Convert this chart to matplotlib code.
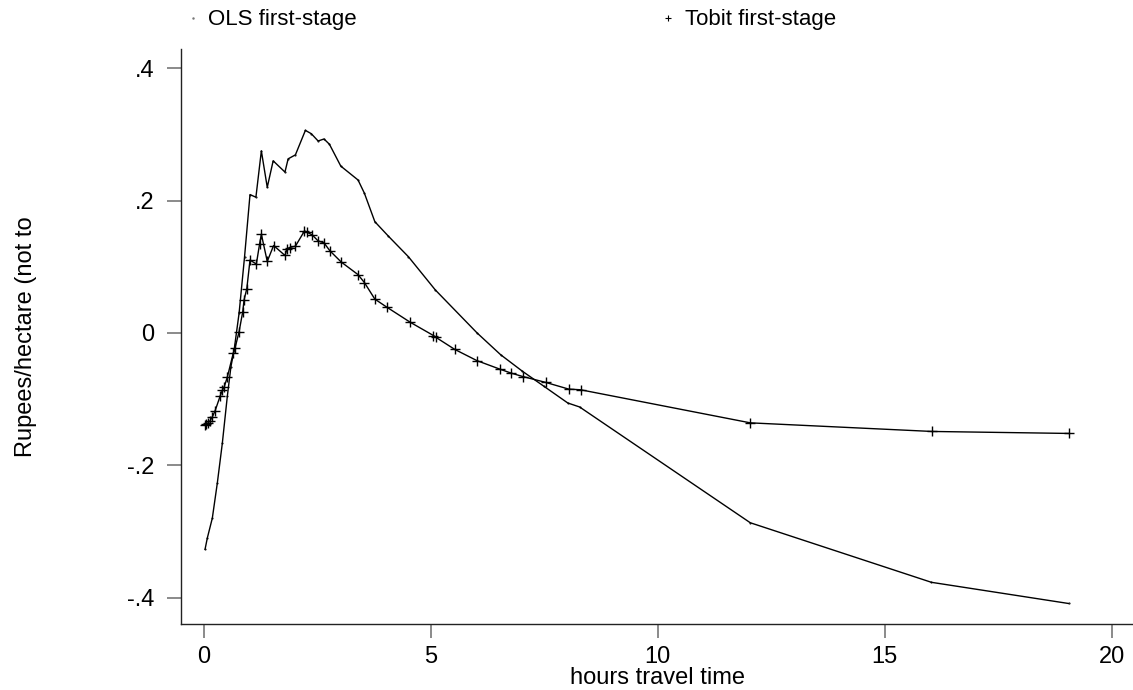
import matplotlib
matplotlib.use("Agg")
import matplotlib.pyplot as plt
from matplotlib.lines import Line2D

plt.rcParams['font.family'] = ['Liberation Sans', 'DejaVu Sans']

# ---- data ----
ols_x = [0.03, 0.08, 0.19, 0.30, 0.41, 0.52, 0.60, 0.67, 0.78, 0.90, 1.02, 1.15,
         1.27, 1.40, 1.53, 1.79, 1.86, 2.02, 2.24, 2.37, 2.52, 2.65, 2.77, 3.02,
         3.40, 3.54, 3.77, 4.07, 4.51, 5.10, 6.02, 6.54, 7.02, 7.50, 8.02, 8.28,
         12.04, 16.03, 19.05]
ols_y = [-0.327, -0.310, -0.280, -0.227, -0.167, -0.096, -0.051, -0.026, 0.030,
         0.115, 0.209, 0.205, 0.275, 0.220, 0.260, 0.243, 0.263, 0.269, 0.306,
         0.301, 0.290, 0.293, 0.285, 0.252, 0.231, 0.211, 0.168, 0.146, 0.115,
         0.065, 0.000, -0.033, -0.058, -0.081, -0.106, -0.112, -0.287, -0.377,
         -0.409]

tobit_x = [0.03, 0.05, 0.10, 0.14, 0.19, 0.25, 0.36, 0.41, 0.45, 0.52, 0.65, 0.69,
           0.78, 0.86, 0.89, 0.95, 1.02, 1.16, 1.23, 1.27, 1.40, 1.54, 1.79, 1.84,
           1.89, 2.02, 2.22, 2.28, 2.39, 2.52, 2.65, 2.78, 3.03, 3.40, 3.54, 3.77,
           4.03, 4.55, 5.06, 5.12, 5.53, 6.02, 6.53, 6.78, 7.03, 7.54, 8.04, 8.30,
           12.04, 16.04, 19.05]
tobit_y = [-0.139, -0.138, -0.136, -0.133, -0.127, -0.118, -0.096, -0.087, -0.082,
           -0.067, -0.031, -0.023, 0.002, 0.032, 0.050, 0.067, 0.110, 0.104, 0.134,
           0.149, 0.108, 0.132, 0.117, 0.127, 0.129, 0.131, 0.154, 0.152, 0.148,
           0.139, 0.136, 0.124, 0.107, 0.088, 0.076, 0.051, 0.039, 0.016, -0.004,
           -0.007, -0.025, -0.042, -0.055, -0.061, -0.066, -0.075, -0.085, -0.086,
           -0.136, -0.149, -0.152]

x_ticks = [0, 5, 10, 15, 20]
x_tick_labels = ['0', '5', '10', '15', '20']
y_ticks = [0.4, 0.2, 0.0, -0.2, -0.4]
y_tick_labels = ['.4', '.2', '0', '-.2', '-.4']

series_labels = ['OLS first-stage', 'Tobit first-stage']
x_label = 'hours travel time'
y_label = 'Rupees/hectare (not to'

# ---- figure ----
W, H = 1133, 690
fig = plt.figure(figsize=(W / 100, H / 100), dpi=100)
ax = fig.add_axes([181 / W, 66 / H, (W - 181) / W, (624 - 49) / H])

ax.plot(ols_x, ols_y, color='black', lw=1.0, marker='.', ms=1.0)
ax.plot(tobit_x, tobit_y, color='black', lw=1.0, marker='+', ms=7, mew=1.0)

ax.set_xlim(-0.50, 20.47)
ax.set_ylim(-0.44, 0.429)

for s in ['top', 'right']:
    ax.spines[s].set_visible(False)
for s in ['left', 'bottom']:
    ax.spines[s].set_color('#222222')
    ax.spines[s].set_linewidth(1.0)

ax.set_xticks(x_ticks)
ax.set_xticklabels(x_tick_labels)
ax.set_yticks(y_ticks)
ax.set_yticklabels(y_tick_labels)
ax.tick_params(axis='both', length=10, width=1.2, color='#777777',
               labelsize=17, labelcolor='black')
ax.tick_params(axis='y', pad=9)
ax.tick_params(axis='x', pad=6)

ax.set_xlabel(x_label, fontsize=17, labelpad=-1)
ax.set_ylabel(y_label, fontsize=17)
ax.yaxis.set_label_coords((37 - 181) / (W - 181), 0.5)

fs = 16
px_per_fs = fs * 100 / 72.0
h1 = Line2D([], [], ls='none', marker='.', ms=1.5, color='#777777')
h2 = Line2D([], [], ls='none', marker='+', ms=5, mew=0.8, color='black')
fig.legend([h1], [series_labels[0]], loc='center left',
           bbox_to_anchor=(187.5 / W, 1 - 20 / H), frameon=False, fontsize=fs,
           handlelength=11 / px_per_fs, handletextpad=(208 - 198.5) / px_per_fs,
           borderpad=0, borderaxespad=0)
fig.legend([h2], [series_labels[1]], loc='center left',
           bbox_to_anchor=(662.5 / W, 1 - 20 / H), frameon=False, fontsize=fs,
           handlelength=11 / px_per_fs, handletextpad=(685 - 673.5) / px_per_fs,
           borderpad=0, borderaxespad=0)

fig.savefig('out.png', dpi=100)
